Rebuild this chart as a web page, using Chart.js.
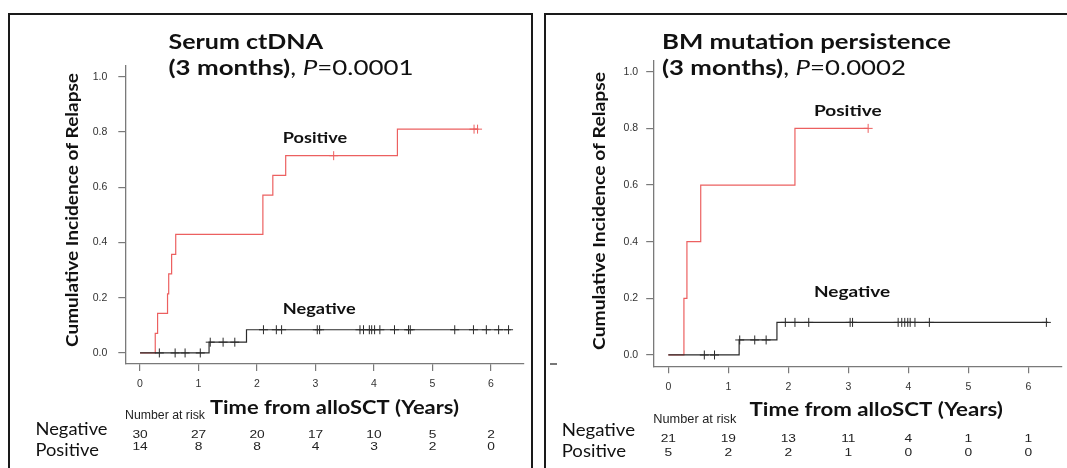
<!DOCTYPE html>
<html><head><meta charset="utf-8">
<script src="https://cdn.jsdelivr.net/npm/chart.js@4.4.1/dist/chart.umd.min.js"></script>
<style>
html,body{margin:0;padding:0;background:#fff;width:1067px;height:468px;overflow:hidden;position:relative}
.box{position:absolute;border:2.5px solid #1a1a1a;box-sizing:border-box}
canvas{position:absolute;top:0}
</style></head><body>
<div class="box" style="left:8px;top:13px;width:525px;height:480px"></div>
<div class="box" style="left:544px;top:13px;width:540px;height:480px"></div>
<div style="position:absolute;left:550px;top:363px;width:7px;height:1.5px;background:#777"></div>
<canvas id="c1" width="533" height="468" style="left:0"></canvas>
<canvas id="c2" width="534" height="468" style="left:533px"></canvas>
<script>
// ---------- data ----------
const timeTicks = [0, 1, 2, 3, 4, 5, 6];
const probTicks = [0, 0.2, 0.4, 0.6, 0.8, 1.0];

// Panel 1: Serum ctDNA (3 months)
const ctNegTimes = [0, 1.18, 1.82, 6.34];
const ctNegVals  = [0, 0.039, 0.084, 0.084];
const ctNegCensor = [0.33, 0.60, 0.77, 1.03, 1.20, 1.42, 1.62, 2.11, 2.33, 2.42, 3.03, 3.07, 3.76, 3.82, 3.92, 3.96, 4.01, 4.10, 4.35, 4.59, 4.62, 5.38, 5.70, 5.92, 6.13, 6.30];
const ctPosTimes = [0, 0.26, 0.30, 0.47, 0.49, 0.54, 0.61, 2.10, 2.27, 2.49, 4.40, 5.77];
const ctPosVals  = [0, 0.071, 0.143, 0.214, 0.286, 0.357, 0.429, 0.571, 0.643, 0.714, 0.81, 0.81];
const ctPosCensor = [3.31, 5.71, 5.77];
const ctRiskNeg = [30, 27, 20, 17, 10, 5, 2];
const ctRiskPos = [14, 8, 8, 4, 3, 2, 0];

// Panel 2: BM mutation persistence (3 months)
const bmNegTimes = [0, 1.18, 1.81, 6.33];
const bmNegVals  = [0, 0.053, 0.115, 0.115];
const bmNegCensor = [0.60, 0.77, 1.19, 1.44, 1.63, 1.95, 2.11, 2.34, 3.03, 3.07, 3.83, 3.89, 3.94, 3.99, 4.03, 4.11, 4.35, 6.30];
const bmPosTimes = [0, 0.26, 0.31, 0.54, 2.11, 3.33];
const bmPosVals  = [0, 0.2, 0.4, 0.6, 0.8, 0.8];
const bmPosCensor = [3.33];
const bmRiskNeg = [21, 19, 13, 11, 4, 1, 1];
const bmRiskPos = [5, 2, 2, 1, 0, 0, 0];

// ---------- helpers ----------
const RED = 'rgb(236,96,96)';
const BLK = '#2a2a2a';
const AX = '#7a7a7a';

function stepAt(times, vals, t) {
  let v = vals[0];
  for (let i = 0; i < times.length; i++) if (times[i] <= t) v = vals[i];
  return v;
}
function pts(xs, ys) { return xs.map((x, i) => ({x: x, y: ys[i]})); }
function cens(cs, times, vals) { return cs.map(t => ({x: t, y: stepAt(times, vals, t)})); }

function drawFit(ctx, segs, x, y, w, color, rotate) {
  ctx.save();
  let nat = 0;
  segs.forEach(s => { ctx.font = s.f; nat += ctx.measureText(s.t).width; });
  const k = w ? w / nat : 1;
  ctx.translate(x, y);
  if (rotate) ctx.rotate(-Math.PI / 2);
  ctx.scale(k, 1);
  let cx = rotate ? -nat / 2 : 0;
  ctx.fillStyle = color || '#111';
  ctx.textBaseline = 'alphabetic';
  ctx.textAlign = 'left';
  segs.forEach(s => { ctx.font = s.f; ctx.fillText(s.t, cx, 0); cx += ctx.measureText(s.t).width; });
  ctx.restore();
}
const fb = s => 'bold ' + s + 'px Lato, "Open Sans", sans-serif';
const fr = s => s + 'px Lato, "Open Sans", sans-serif';
const fi = s => 'italic ' + s + 'px Lato, "Open Sans", sans-serif';
const fa = s => s + 'px "Liberation Sans", Arial, sans-serif';

function makePanel(id, L, data) {
  const textPlugin = {
    id: 'panelText' + id,
    afterDraw(chart) {
      const ctx = chart.ctx, xs = chart.scales.x;
      drawFit(ctx, [{t: L.title1, f: fb(21)}], L.tx, 48.5, L.t1w);
      drawFit(ctx, [{t: '(3 months)', f: fb(21)}, {t: ', ', f: fr(21)}, {t: 'P', f: fi(21)}, {t: '=' + L.p, f: fr(21)}], L.tx, 75, L.t2w);
      drawFit(ctx, [{t: 'Cumulative Incidence of Relapse', f: fb(17.5)}], L.ylx, L.yly, L.ylw, '#111', true);
      drawFit(ctx, [{t: 'Positive', f: fb(15.5)}], L.px, L.py, L.pw);
      drawFit(ctx, [{t: 'Negative', f: fb(15.5)}], L.nx, L.ny, L.nw);
      drawFit(ctx, [{t: 'Time from alloSCT (Years)', f: fb(18.5)}], L.xtx, L.xty, L.xtw);
      drawFit(ctx, [{t: 'Number at risk', f: fa(12)}], L.narx, L.nary, L.narw, '#222');
      drawFit(ctx, [{t: 'Negative', f: fr(16.5)}], L.rx, L.rny, L.rnw, '#111');
      drawFit(ctx, [{t: 'Positive', f: fr(16.5)}], L.rx, L.rpy, L.rpw, '#111');
      ctx.save();
      ctx.fillStyle = '#222';
      ctx.font = fa(11);
      ctx.textAlign = 'center';
      ctx.textBaseline = 'alphabetic';
      timeTicks.forEach((t, i) => {
        const px = xs.getPixelForValue(t);
        [[data.riskNeg[i], L.numNy], [data.riskPos[i], L.numPy]].forEach(([v, yy]) => {
          ctx.save(); ctx.translate(px, yy); ctx.scale(1.25, 1); ctx.fillText(String(v), 0, 0); ctx.restore();
        });
      });
      ctx.restore();
    }
  };
  const lineDs = (d, c) => ({data: d, showLine: true, stepped: true, borderColor: c, borderWidth: 1.2, pointRadius: 0, fill: false});
  const cenDs = (d, c) => ({data: d, showLine: false, pointStyle: 'cross', pointRadius: 4.5, borderColor: c, borderWidth: 1, backgroundColor: c});
  return new Chart(document.getElementById(id), {
    type: 'scatter',
    data: {datasets: [
      lineDs(pts(data.negT, data.negV), BLK),
      cenDs(cens(data.negC, data.negT, data.negV), BLK),
      lineDs(pts(data.posT, data.posV), RED),
      cenDs(cens(data.posC, data.posT, data.posV), RED)
    ]},
    options: {
      responsive: false, animation: false, devicePixelRatio: 1,
      layout: {padding: {left: 0, right: L.padR, top: L.top, bottom: 0}},
      plugins: {legend: {display: false}, tooltip: {enabled: false}},
      scales: {
        x: {
          type: 'linear', min: -0.252, max: 6.552,
          afterBuildTicks: s => { s.ticks = timeTicks.map(v => ({value: v})); },
          afterFit: s => { s.height = L.xh; },
          ticks: {font: {family: 'Liberation Sans', size: 10.5}, color: '#333', padding: L.xpad, maxRotation: 0, autoSkip: false, callback: v => String(v)},
          grid: {display: true, drawOnChartArea: false, drawTicks: true, tickLength: 7, color: AX, lineWidth: 1.2},
          border: {display: true, color: AX, width: 1.3}
        },
        y: {
          type: 'linear', min: -0.04, max: 1.04,
          afterBuildTicks: s => { s.ticks = probTicks.map(v => ({value: v})); },
          afterFit: s => { s.width = L.yw; },
          ticks: {font: {family: 'Liberation Sans', size: 10.5}, color: '#333', padding: L.ypad, autoSkip: false, callback: v => Number(v).toFixed(1)},
          grid: {display: true, drawOnChartArea: false, drawTicks: true, tickLength: 7, color: AX, lineWidth: 1.2},
          border: {display: true, color: AX, width: 1.3}
        }
      }
    },
    plugins: [textPlugin]
  });
}

makePanel('c1', {
  padR: 9.7, top: 65.6, xh: 104, yw: 125.3, xpad: 7, ypad: 11,
  title1: 'Serum ctDNA', p: '0.0001', tx: 168.5, t1w: 154.5, t2w: 245,
  ylx: 78, yly: 210, ylw: 274,
  px: 282.8, py: 142.5, pw: 64.3, nx: 282.8, ny: 314, nw: 72.8,
  xtx: 210, xty: 414, xtw: 249,
  narx: 125, nary: 419.3, narw: 80,
  rx: 35.5, rny: 435, rnw: 72, rpy: 456, rpw: 63.3,
  numNy: 437.5, numPy: 450
}, {negT: ctNegTimes, negV: ctNegVals, negC: ctNegCensor, posT: ctPosTimes, posV: ctPosVals, posC: ctPosCensor, riskNeg: ctRiskNeg, riskPos: ctRiskPos});

makePanel('c2', {
  padR: 5.3, top: 60.4, xh: 101.7, yw: 120.2, xpad: 8, ypad: 8,
  title1: 'BM mutation persistence', p: '0.0002', tx: 129, t1w: 289, t2w: 244,
  ylx: 71.5, yly: 211, ylw: 278,
  px: 281, py: 116, pw: 67.6, nx: 281, ny: 297.3, nw: 76.2,
  xtx: 216.6, xty: 415.7, xtw: 253.3,
  narx: 120.3, nary: 423, narw: 83,
  rx: 28.7, rny: 436, rnw: 73.3, rpy: 456.7, rpw: 64.3,
  numNy: 442.3, numPy: 456
}, {negT: bmNegTimes, negV: bmNegVals, negC: bmNegCensor, posT: bmPosTimes, posV: bmPosVals, posC: bmPosCensor, riskNeg: bmRiskNeg, riskPos: bmRiskPos});
</script>
</body></html>
